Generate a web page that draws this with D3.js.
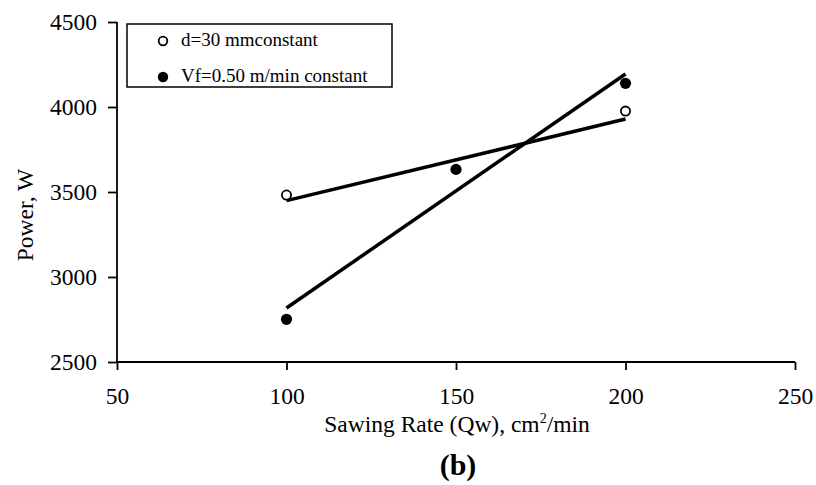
<!DOCTYPE html>
<html>
<head>
<meta charset="utf-8">
<script src="https://cdn.jsdelivr.net/npm/d3@7/dist/d3.min.js"></script>
<style>
  body { margin: 0; background: #fff; }
  text { font-family: "Liberation Serif", "Times New Roman", serif; fill: #000; }
</style>
</head>
<body>
<div id="chart"></div>
<script>
// data
var xTicks = [50, 100, 150, 200, 250];
var yTicks = [2500, 3000, 3500, 4000, 4500];

var depthRate = [100, 200];            // d = 30 mm constant
var depthPower = [3482, 3976];
var depthFitX = [100, 200];
var depthFitY = [3449, 3929];

var feedRate = [100, 150, 200];        // Vf = 0.50 m/min constant
var feedPower = [2751, 3633, 4139];
var feedFitX = [100, 200];
var feedFitY = [2818, 4194];

var legendLabels = ["d=30 mmconstant", "Vf=0.50 m/min constant"];

var width = 816, height = 485;

var svg = d3.select("#chart")
    .append("svg")
    .attr("width", width)
    .attr("height", height);

var x = d3.scaleLinear().domain([50, 250]).range([117, 795]);
var y = d3.scaleLinear().domain([2500, 4500]).range([362, 22]);

// axes
var xAxis = svg.append("g")
    .attr("transform", "translate(0," + y(2500) + ")")
    .call(d3.axisBottom(x).tickValues(xTicks).tickSize(8).tickPadding(17).tickFormat(d3.format("d")));
var yAxis = svg.append("g")
    .attr("transform", "translate(" + x(50) + ",0)")
    .call(d3.axisLeft(y).tickValues(yTicks).tickSize(9).tickPadding(11).tickFormat(d3.format("d")));

[xAxis, yAxis].forEach(function(g){
    g.select(".domain").attr("stroke", "#000").attr("stroke-width", 1.8);
    g.selectAll(".tick line").attr("stroke", "#000").attr("stroke-width", 1.8);
    g.selectAll(".tick text").attr("font-size", 23.5).attr("font-family", "Liberation Serif").attr("fill", "#000");
});
xAxis.select(".domain").attr("d", "M" + x(50) + ",0H" + x(250));
yAxis.select(".domain").attr("d", "M0," + y(4500) + "V" + y(2500));

// trend lines
var line = d3.line()
    .x(function(d){ return x(d[0]); })
    .y(function(d){ return y(d[1]); });

svg.append("path")
    .attr("d", line(d3.zip(depthFitX, depthFitY)))
    .attr("stroke", "#000").attr("stroke-width", 3.5).attr("fill", "none");
svg.append("path")
    .attr("d", line(d3.zip(feedFitX, feedFitY)))
    .attr("stroke", "#000").attr("stroke-width", 3.5).attr("fill", "none");

// points
svg.append("g").selectAll("circle")
    .data(d3.zip(depthRate, depthPower))
    .enter().append("circle")
    .attr("cx", function(d){ return x(d[0]); })
    .attr("cy", function(d){ return y(d[1]); })
    .attr("r", 4.6)
    .attr("fill", "#fff").attr("stroke", "#000").attr("stroke-width", 1.8);

svg.append("g").selectAll("circle")
    .data(d3.zip(feedRate, feedPower))
    .enter().append("circle")
    .attr("cx", function(d){ return x(d[0]); })
    .attr("cy", function(d){ return y(d[1]); })
    .attr("r", 5.6)
    .attr("fill", "#000");

// legend
var legend = svg.append("g");
legend.append("rect")
    .attr("x", 127).attr("y", 24).attr("width", 265).attr("height", 63)
    .attr("fill", "#fff").attr("stroke", "#000").attr("stroke-width", 1.5);
legend.append("circle").attr("cx", 163).attr("cy", 41).attr("r", 4.3)
    .attr("fill", "#fff").attr("stroke", "#000").attr("stroke-width", 1.8);
legend.append("circle").attr("cx", 163).attr("cy", 77).attr("r", 5.2).attr("fill", "#000");
legend.selectAll("text.lg")
    .data(legendLabels)
    .enter().append("text")
    .attr("class", "lg")
    .attr("x", 181)
    .attr("y", function(d, i){ return 46 + i * 36; })
    .attr("font-size", 19)
    .text(function(d){ return d; });

// axis titles
var xt = svg.append("text")
    .attr("x", 457).attr("y", 432)
    .attr("text-anchor", "middle")
    .attr("font-size", 23.5);
xt.append("tspan").text("Sawing Rate (Qw), cm");
xt.append("tspan").attr("dy", -9).attr("font-size", 14).text("2");
xt.append("tspan").attr("dy", 9).text("/min");

svg.append("text")
    .attr("transform", "translate(33,215) rotate(-90)")
    .attr("text-anchor", "middle")
    .attr("font-size", 23.5)
    .text("Power, W");

svg.append("text")
    .attr("x", 458).attr("y", 475)
    .attr("text-anchor", "middle")
    .attr("font-size", 30)
    .attr("font-weight", "bold")
    .text("(b)");
</script>
</body>
</html>
